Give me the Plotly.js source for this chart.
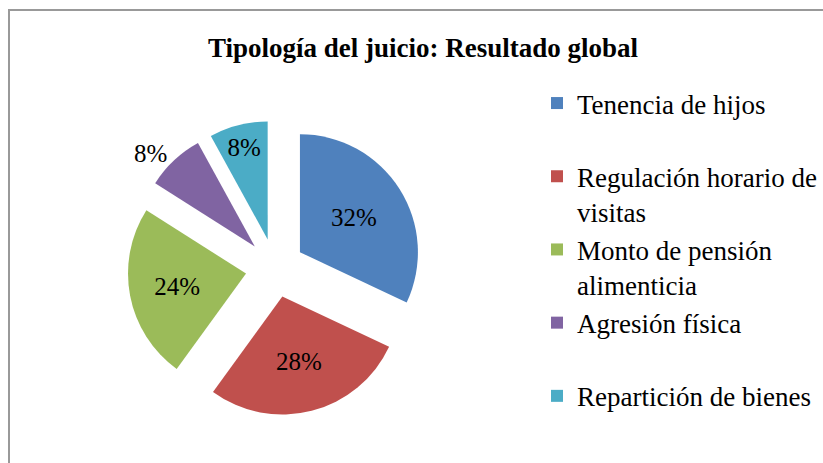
<!DOCTYPE html>
<html>
<head>
<meta charset="utf-8">
<script src="https://cdn.plot.ly/plotly-3.0.1.min.js"></script>
<style>html,body{margin:0;padding:0;background:#fff;}#chart{width:823px;height:463px;}</style>
</head>
<body>
<div id="chart"></div>
<script>
var categories = ["Tenencia de hijos", "Regulación horario de visitas", "Monto de pensión alimenticia", "Agresión física", "Repartición de bienes"];
var legendLabels = ["Tenencia de hijos<br>\u00a0", "Regulación horario de<br>visitas", "Monto de pensión<br>alimenticia", "Agresión física<br>\u00a0", "Repartición de bienes"];
var values = [32, 28, 24, 8, 8];
var colors = ["#4F81BD", "#C0504D", "#9BBB59", "#8064A2", "#4BACC6"];
var textPositions = ["inside", "inside", "inside", "outside", "inside"];

var W = 823, H = 463;
var cx = 275, cy = 268, side = 295;
var serif = "'Liberation Serif', 'Times New Roman', serif";

var trace = {
  type: "pie",
  labels: legendLabels,
  values: values,
  sort: false,
  direction: "clockwise",
  rotation: 0,
  pull: 0.25,
  marker: {colors: colors, line: {width: 0}},
  textinfo: "percent",
  texttemplate: "%{percent:.0%}",
  textposition: textPositions,
  insidetextorientation: "horizontal",
  textfont: {family: serif, size: 25, color: "#000"},
  hoverinfo: "label+percent",
  domain: {
    x: [(cx - side / 2) / W, (cx + side / 2) / W],
    y: [1 - (cy + side / 2) / H, 1 - (cy - side / 2) / H]
  }
};

var layout = {
  width: W, height: H,
  margin: {l: 0, r: 0, t: 0, b: 0},
  paper_bgcolor: "#fff",
  font: {family: serif, color: "#000"},
  title: {
    text: "<b>Tipología del juicio: Resultado global</b>",
    font: {family: serif, size: 27, color: "#000"},
    x: 423 / W, xanchor: "center", xref: "paper",
    y: 1 - 48 / H, yanchor: "middle", yref: "container"
  },
  showlegend: true,
  legend: {
    x: 537 / W, xanchor: "left",
    y: 1 - 79 / H, yanchor: "top",
    valign: "top",
    font: {family: serif, size: 27, color: "#000"},
    bgcolor: "rgba(0,0,0,0)"
  },
  shapes: [{
    type: "rect", xref: "paper", yref: "paper",
    x0: 9 / W, x1: 1.02, y0: -0.02, y1: 1 - 10 / H,
    line: {color: "#999999", width: 2}
  }]
};

Plotly.newPlot("chart", [trace], layout, {displayModeBar: false, staticPlot: true});
</script>
</body>
</html>
